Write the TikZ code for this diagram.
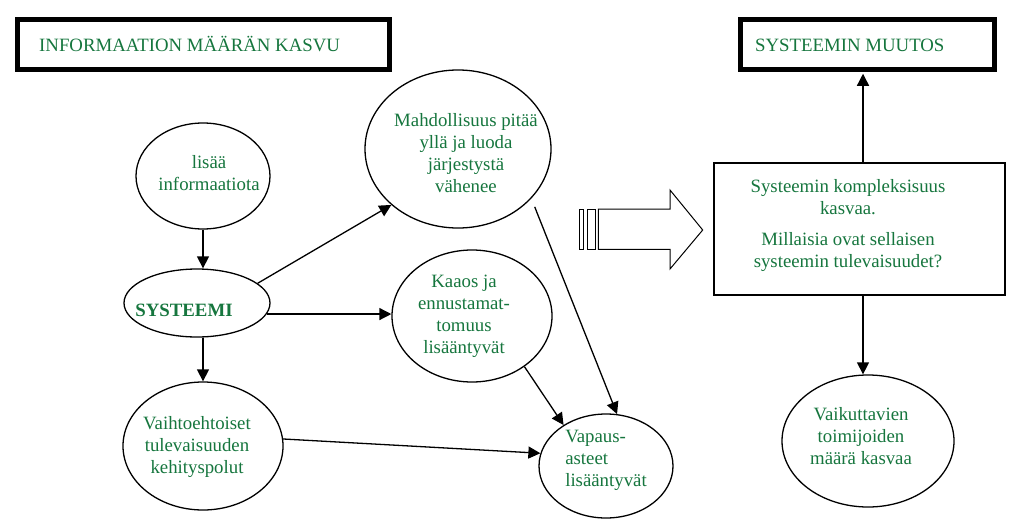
\documentclass[tikz,border=0pt]{standalone}
\usepackage{fontspec}
\setmainfont{Liberation Serif}
\usetikzlibrary{shapes.geometric,arrows.meta}
\definecolor{txtgreen}{RGB}{22,118,62}
\begin{document}
\begin{tikzpicture}[x=1pt,y=-1pt,
  oval/.style={draw, ellipse, line width=1.3pt, inner sep=0pt},
  lbl/.style={text=txtgreen, font=\fontsize{18.8}{22}\selectfont, align=center, inner sep=0pt},
  arr/.style={line width=1.3pt, -{Triangle[length=12pt,width=12pt]}},
  tbox/.style={draw, line width=4.5pt, inner sep=0pt},
  plainbox/.style={draw, line width=1.3pt, inner sep=0pt},
  blockline/.style={line width=1pt}
  ]
\useasboundingbox[fill=white] (0,0) rectangle (1024,527);

% title boxes
\node[tbox, minimum width=372pt, minimum height=50pt] (t1) at (203.5,44.5) {};
\node[lbl, anchor=base west] (t1txt) at (39,52) {INFORMAATION MÄÄRÄN KASVU};
\node[tbox, minimum width=254pt, minimum height=50pt] (t2) at (867.5,44.5) {};
\node[lbl, anchor=base west] (t2txt) at (755,52) {SYSTEEMIN MUUTOS};

% right rectangle
\node[plainbox, minimum width=291pt, minimum height=132pt] (box) at (859.5,229) {};
\node[lbl] (boxtxt) at (848,226) {Systeemin kompleksisuus\\kasvaa.\\[9pt]Millaisia ovat sellaisen\\systeemin tulevaisuudet?};

% ellipses
\node[oval, minimum width=134pt, minimum height=106pt] (lis) at (203,176) {};
\node[lbl] (listxt) at (209,173) {lisää\\informaatiota};
\node[oval, minimum width=146pt, minimum height=68pt] (sys) at (197,303) {};
\node[lbl, font=\fontsize{18.8}{22}\selectfont\bfseries, anchor=base] (systxt) at (184,316) {SYSTEEMI};
\node[oval, minimum width=160pt, minimum height=128pt] (vai) at (203,446) {};
\node[lbl] (vaitxt) at (197,447) {Vaihtoehtoiset\\tulevaisuuden\\kehityspolut};
\node[oval, minimum width=186pt, minimum height=158pt] (mah) at (458,149) {};
\node[lbl] (mahtxt) at (466,153) {Mahdollisuus pitää\\yllä ja luoda\\järjestystä\\vähenee};
\node[oval, minimum width=160pt, minimum height=132pt] (kaa) at (472,316) {};
\node[lbl] (kaatxt) at (464,316) {Kaaos ja\\ennustamat-\\tomuus\\lisääntyvät};
\node[oval, minimum width=134pt, minimum height=104pt] (vap) at (606,466) {};
\node[lbl, align=left] (vaptxt) at (606,460) {Vapaus-\\asteet\\lisääntyvät};
\node[oval, minimum width=172pt, minimum height=132pt] (vaik) at (868,441) {};
\node[lbl] (vaiktxt) at (861,436) {Vaikuttavien\\toimijoiden\\määrä kasvaa};

% connectors
\coordinate (ax) at (863,0);
\draw[arr] (lis.south) -- (lis.south |- sys.north);
\draw[arr] (sys.18) -- (mah.220);
\draw[arr] (sys.-9) -- (sys.-9 -| kaa.west);
\draw[arr] (vai.north |- sys.south) -- (vai.north);
\draw[arr] (vai.5) -- (vap.169);
\draw[arr] (kaa.-44) -- (vap.136);
\draw[arr, shorten <=9pt] (mah.-34) -- (vap.78);
\draw[arr, shorten >=2pt] (box.north -| ax) -- (t2.south -| ax);
\draw[arr] (box.south -| ax) -- (vaik.north -| ax);

% block arrow
\draw[blockline] (579.3,209) rectangle (583.3,249.3);
\draw[blockline] (587.3,209) rectangle (595.7,249.3);
\draw[blockline] (598.3,209) -- (670,209) -- (670,190) -- (702.7,230) -- (670,269) -- (670,249.3) -- (598.3,249.3) -- cycle;
\end{tikzpicture}
\end{document}
